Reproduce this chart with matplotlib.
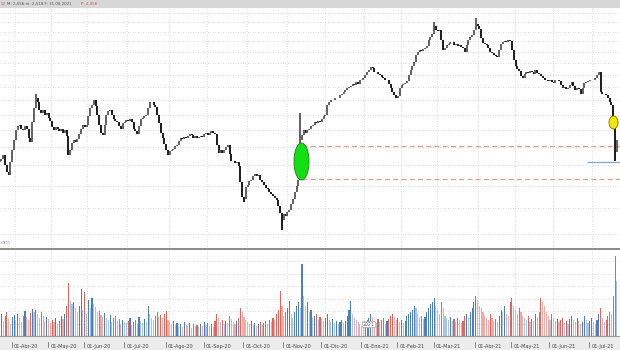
import numpy as np
import pandas as pd
import matplotlib
matplotlib.use("Agg")
import matplotlib.pyplot as plt
from matplotlib.patches import Rectangle
from matplotlib.path import Path
from matplotlib.ticker import NullLocator

# ---------------- data ----------------
start_date = "2020-03-23"
holidays = ["2020-04-10", "2020-04-13", "2020-05-01", "2020-12-25",
            "2021-01-01", "2021-04-02", "2021-04-05"]
month_names = {1: "Ene", 2: "Feb", 3: "Mar", 4: "Abr", 5: "May", 6: "Jun",
               7: "Jul", 8: "Ago", 9: "Sep", 10: "Oct", 11: "Nov", 12: "Dic"}

closes = [
    2.05, 2.07, 2.11, 2.00, 1.93, 1.90, 2.03, 2.16, 2.28, 2.40,
    2.45, 2.47, 2.42, 2.40, 2.45, 2.42, 2.30, 2.26, 2.50, 2.69,
    2.83, 2.77, 2.66, 2.62, 2.66, 2.60, 2.62, 2.55, 2.51, 2.44,
    2.40, 2.44, 2.41, 2.39, 2.42, 2.37, 2.40, 2.33, 2.11, 2.16,
    2.24, 2.28, 2.26, 2.29, 2.35, 2.42, 2.46, 2.44, 2.47, 2.58,
    2.69, 2.74, 2.80, 2.72, 2.59, 2.47, 2.37, 2.34, 2.47, 2.60,
    2.65, 2.66, 2.59, 2.54, 2.51, 2.50, 2.45, 2.42, 2.49, 2.50,
    2.53, 2.51, 2.54, 2.50, 2.42, 2.39, 2.35, 2.45, 2.54, 2.55,
    2.58, 2.59, 2.69, 2.77, 2.78, 2.73, 2.70, 2.60, 2.49, 2.37,
    2.30, 2.23, 2.16, 2.11, 2.15, 2.17, 2.18, 2.21, 2.22, 2.27,
    2.30, 2.29, 2.31, 2.30, 2.33, 2.35, 2.34, 2.30, 2.33, 2.30,
    2.31, 2.33, 2.31, 2.35, 2.36, 2.34, 2.37, 2.39, 2.36, 2.35,
    2.22, 2.13, 2.16, 2.13, 2.17, 2.20, 2.22, 2.12, 2.05, 2.04,
    2.02, 2.03, 1.99, 1.83, 1.70, 1.68, 1.79, 1.81, 1.84, 1.85,
    1.89, 1.91, 1.89, 1.90, 1.85, 1.83, 1.81, 1.78, 1.77, 1.74,
    1.72, 1.71, 1.69, 1.67, 1.62, 1.56, 1.51, 1.55, 1.54, 1.57,
    1.59, 1.64, 1.68, 1.74, 1.80, 1.85, 2.28, 2.34, 2.40, 2.36,
    2.40, 2.42, 2.45, 2.47, 2.50, 2.49, 2.51, 2.50, 2.54, 2.58,
    2.60, 2.74, 2.78, 2.80, 2.80, 2.83, 2.84, 2.84, 2.88, 2.90,
    2.92, 2.95, 2.98, 3.00, 3.02, 3.05, 3.03, 3.08, 3.05, 3.11,
    3.12, 3.14, 3.19, 3.24, 3.28, 3.33, 3.31, 3.24, 3.24, 3.21,
    3.19, 3.16, 3.14, 3.11, 3.11, 3.05, 2.98, 2.92, 2.88, 2.83,
    2.86, 2.98, 3.03, 3.05, 3.06, 3.09, 3.19, 3.28, 3.34, 3.41,
    3.54, 3.60, 3.63, 3.62, 3.65, 3.67, 3.71, 3.83, 3.89, 3.95,
    4.12, 4.03, 4.01, 4.03, 3.83, 3.63, 3.67, 3.73, 3.75, 3.79,
    3.79, 3.73, 3.75, 3.71, 3.73, 3.69, 3.67, 3.59, 3.73, 3.83,
    3.89, 3.93, 4.03, 4.16, 4.12, 4.05, 3.87, 3.77, 3.75, 3.73,
    3.67, 3.59, 3.58, 3.54, 3.52, 3.50, 3.63, 3.75, 3.79, 3.81,
    3.79, 3.83, 3.81, 3.63, 3.45, 3.34, 3.30, 3.26, 3.18, 3.14,
    3.21, 3.24, 3.22, 3.26, 3.24, 3.21, 3.28, 3.22, 3.21, 3.18,
    3.14, 3.12, 3.11, 3.09, 3.11, 3.08, 3.06, 3.11, 3.12, 3.09,
    3.03, 2.98, 3.00, 2.97, 2.98, 3.03, 3.08, 3.02, 2.95, 2.98,
    2.97, 2.90, 2.98, 3.06, 3.08, 3.09, 3.11, 3.11, 3.12, 3.14,
    3.19, 3.24, 2.92, 2.90, 2.90, 2.88, 2.83, 2.78, 2.74, 2.46,
    2.14, 2.28,
]
first_open = 2.03

wick_highs = {20: 2.90, 166: 2.62, 240: 4.20, 263: 4.30, 339: 2.74}
wick_lows = {135: 1.65, 156: 1.43, 340: 2.05}

volumes = [
    18, 22, 15, 20, 24, 17, 12, 19, 21, 16,
    22, 18, 14, 20, 25, 19, 16, 23, 27, 24,
    26, 22, 18, 24, 20, 15, 19, 17, 13, 16,
    14, 18, 12, 15, 20, 17, 22, 30, 53, 35,
    32, 34, 28, 24, 30, 47, 26, 44, 22, 36,
    28, 38, 32, 29, 24, 25, 21, 19, 23, 18,
    16, 21, 14, 18, 20, 15, 17, 12, 16, 14,
    13, 15, 18, 11, 14, 16, 12, 19, 15, 13,
    17, 14, 30, 22, 18, 16, 20, 24, 19, 21,
    18, 22, 25, 16, 14, 12, 15, 11, 13, 10,
    12, 9, 14, 11, 10, 13, 8, 12, 10, 11,
    9, 12, 10, 14, 11, 13, 10, 12, 9, 15,
    22, 18, 14, 16, 12, 15, 13, 20, 17, 14,
    12, 15, 18, 28, 24, 19, 16, 14, 12, 15,
    11, 13, 10, 12, 14, 11, 13, 15, 12, 16,
    14, 18, 16, 22, 26, 45, 30, 20, 24, 28,
    35, 22, 18, 24, 30, 34, 28, 72, 40, 30,
    34, 24, 26, 18, 20, 22, 16, 19, 17, 15,
    18, 22, 16, 14, 17, 13, 15, 12, 14, 16,
    13, 15, 20, 26, 35, 22, 18, 16, 14, 12,
    10, 9, 14, 16, 18, 22, 19, 15, 13, 17,
    14, 16, 18, 12, 15, 17, 20, 22, 19, 16,
    18, 14, 16, 13, 15, 20, 22, 24, 26, 30,
    28, 22, 18, 20, 17, 19, 24, 28, 32, 34,
    38, 30, 26, 22, 34, 28, 20, 18, 16, 19,
    15, 17, 14, 18, 16, 13, 15, 20, 22, 18,
    24, 28, 34, 40, 36, 30, 28, 24, 20, 18,
    16, 22, 18, 15, 17, 14, 20, 26, 24, 30,
    22, 20, 34, 38, 30, 26, 22, 28, 24, 20,
    18, 16, 20, 14, 17, 15, 22, 19, 24, 38,
    34, 30, 24, 20, 16, 22, 18, 15, 17, 14,
    16, 18, 13, 15, 12, 17, 20, 16, 14, 18,
    15, 12, 14, 20, 16, 13, 15, 18, 14, 12,
    16, 22, 28, 18, 14, 16, 20, 24, 22, 40,
    80, 55,
]

gap_levels = [2.21, 1.86]
gap_start = 167
support_level = 2.03
support_start = 324.5
green_mark = (166.5, 2.04)
yellow_mark = (338.6, 2.50)
price_grid = [1.4, 1.6, 1.8, 2.0, 2.2, 2.4, 2.6, 2.8, 3.0, 3.2, 3.4, 3.6, 3.8, 4.0, 4.2, 4.4]
volume_grid = [12.5, 25, 37.5, 50, 62.5, 75]
header_parts = [("02", "#e05050", 0.5), ("M: 2,556 m: 2,518 F: 31.08.2021", "#555555", 7),
                ("P: 4,056", "#e05050", 81)]

# ---------------- derived ----------------
n = len(closes)
days = pd.bdate_range(start_date, periods=n + 30)
days = days[~days.isin(pd.to_datetime(holidays))][:n]
x = np.arange(n)
c = np.array(closes)
o = np.array([first_open] + closes[:-1])
hi = np.maximum(o, c)
lo = np.minimum(o, c)
for k, v in wick_highs.items():
    hi[k] = v
for k, v in wick_lows.items():
    lo[k] = v
up = c >= o

month_idx = [i for i in range(1, n) if days[i].month != days[i - 1].month]

# ---------------- figure ----------------
W, H = 620, 350
fig = plt.figure(figsize=(W / 100, H / 100), dpi=100, facecolor="white")

XL = (0.2, 342.7)

# background strips (own axes, behind everything)
bg = fig.add_axes([0, 0, 1, 1], zorder=-5)
bg.set_axis_off()
bg.set_xlim(0, W)
bg.set_ylim(H, 0)
bg.add_patch(Rectangle((0, 0), W, 8, facecolor="#d7d7d7", edgecolor="none"))
bg.add_patch(Rectangle((0, 336), W, 14, facecolor="#ececec", edgecolor="none"))

# price panel
axp = fig.add_axes([0, 1 - 249 / H, 1, 241 / H])
axp.patch.set_alpha(0)
axp.set_yscale("log")
axp.set_xlim(*XL)
axp.set_ylim(1.296, 4.52)
axp.set_yticks(price_grid)
axp.yaxis.set_minor_locator(NullLocator())
axp.set_xticks([])
axp.tick_params(left=False, labelleft=False, which="both")
axp.yaxis.grid(True, color="#cfcfcf", linestyle=(0, (1, 2)), linewidth=0.6)
for m in month_idx:
    axp.axvline(m + 1.5, color="#d4d4d4", linestyle=(0, (1, 2)), linewidth=0.6, zorder=0)
for s in ["top", "left", "right"]:
    axp.spines[s].set_visible(False)
axp.spines["bottom"].set_color("#8a8a8a")
axp.spines["bottom"].set_linewidth(1.4)

cols = np.where(up, "#555555", "#0a0a0a")
axp.vlines(x, lo, hi, colors=cols, linewidth=1.3, zorder=3)

axp.hlines(gap_levels, gap_start, XL[1], colors="#e59a9a", linestyles=(0, (4, 2.6)),
           linewidth=0.9, zorder=2)
axp.hlines(support_level, support_start, XL[1], colors="#7fa7d6", linewidth=0.9, zorder=2)

th = np.linspace(0, 2 * np.pi, 80)
ell = Path(np.c_[np.cos(th) * 15 / 37, np.sin(th)], closed=True)
axp.plot([green_mark[0]], [green_mark[1]], marker=ell, markersize=37 * 0.72,
         markerfacecolor="#10e010", markeredgecolor="#208020", markeredgewidth=0.6,
         linestyle="none", zorder=4)
ell2 = Path(np.c_[np.cos(th) * 9 / 13, np.sin(th)], closed=True)
axp.plot([yellow_mark[0]], [yellow_mark[1]], marker=ell2, markersize=13 * 0.72,
         markerfacecolor="#f5e800", markeredgecolor="#807000", markeredgewidth=0.6,
         linestyle="none", zorder=4)

axp.text(0.5 / W, 7 / 241, "om", transform=axp.transAxes, fontsize=4.5,
         color="#9c9cbc", ha="left", va="center")

# volume panel
axv = fig.add_axes([0, 14 / H, 1, 86 / H])
axv.patch.set_alpha(0)
axv.set_xlim(*XL)
axv.set_ylim(0, 86)
axv.set_yticks(volume_grid)
axv.set_xticks([])
axv.tick_params(left=False, labelleft=False)
axv.yaxis.grid(True, color="#d4d4d4", linestyle=(0, (1, 2)), linewidth=0.6)
for m in month_idx:
    axv.axvline(m + 1.5, color="#d4d4d4", linestyle=(0, (1, 2)), linewidth=0.6, zorder=0)
for s in ["top", "left", "right"]:
    axv.spines[s].set_visible(False)
axv.spines["bottom"].set_color("#9a9a9a")
axv.spines["bottom"].set_linewidth(0.8)

vol = np.array(volumes)
prev = np.r_[vol[0], vol[:-1]]
light = vol < prev
vcols = []
for u, l in zip(up, light):
    if u:
        vcols.append("#a9c4e6" if l else "#4a7fc2")
    else:
        vcols.append("#f3aaa4" if l else "#e8625c")
axv.bar(x, vol, width=0.62, color=vcols, zorder=2)

# x axis labels
xt = axv.get_xaxis_transform()
for m in month_idx:
    d = days[m]
    lab = "01-%s-%s" % (month_names[d.month], str(d.year)[2:])
    axv.plot([m - 0.3, m - 0.3], [-6 / 86, -11 / 86], transform=xt,
             color="#777777", linewidth=0.6, clip_on=False, zorder=5)
    axv.text(m + 0.9, -10.5 / 86, lab, transform=xt,
             fontsize=3.6, color="#444444", ha="left", va="center", clip_on=False, zorder=5)
    if d.month == 1:
        axv.text(m + 0.6, 12 / 86, "2021", transform=xt,
                 fontsize=3.3, color="#555555", ha="left", va="center", zorder=5,
                 bbox=dict(boxstyle="square,pad=0.15", facecolor="white",
                           edgecolor="#999999", linewidth=0.4))

# header text
for txt, col, px in header_parts:
    fig.text(px / W, 1 - 4 / H, txt, fontsize=2.9, color=col, ha="left", va="center")

fig.savefig("out.png", dpi=100, facecolor="white")
